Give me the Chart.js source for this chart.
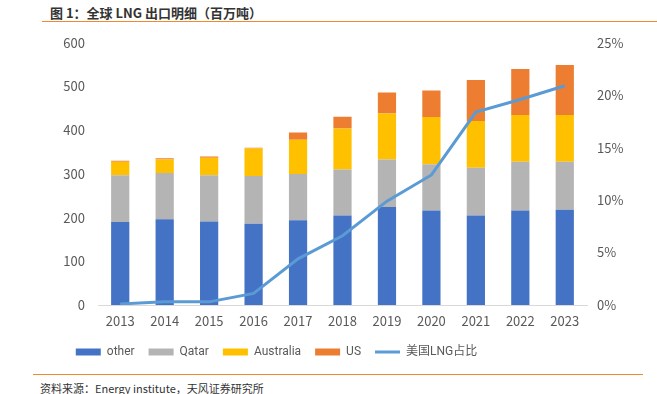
<!DOCTYPE html>
<html>
<head>
<meta charset="utf-8">
<script src="https://cdn.jsdelivr.net/npm/chart.js@4.4.1/dist/chart.umd.min.js"></script>
<style>
  body { margin: 0; width: 657px; height: 394px; background: #fff; position: relative; overflow: hidden;
         font-family: "Noto Sans CJK SC", "Noto Sans", sans-serif; }
  #title { position: absolute; left: 50px; top: 3px; font-size: 13px; font-weight: bold; color: #333; }
  #topLine { position: absolute; left: 42px; right: 0; top: 21px; height: 1px; background: #f08a2c; }
  #bottomLine { position: absolute; left: 33px; width: 610px; top: 374px; height: 1px; background: #f08a2c; }
  #source { position: absolute; left: 40px; top: 380px; font-size: 11px; color: #333; }
  #wrap { position: absolute; left: 0; top: 22px; width: 657px; height: 346px; }
</style>
</head>
<body>
<div id="title">图 1：全球 LNG 出口明细（百万吨）</div>
<div id="topLine"></div>
<div id="wrap"><canvas id="lngChart"></canvas></div>
<div id="bottomLine"></div>
<div id="source">资料来源：Energy  institute，天风证券研究所</div>
<script>
const years = ['2013', '2014', '2015', '2016', '2017', '2018', '2019', '2020', '2021', '2022', '2023'];
const other = [190, 196, 191, 186, 194, 205, 224, 216, 205, 216, 218];
const qatar = [107, 106, 106, 109, 106, 105, 109, 106, 109, 112, 110];
const australia = [31, 31, 40, 63, 78, 94, 105, 108, 107, 107, 107];
const us = [2, 3, 3, 2, 17, 27, 48, 61, 94, 105, 114];
const usShare = [0.1, 0.3, 0.3, 1.1, 4.4, 6.6, 9.9, 12.4, 18.4, 19.6, 20.9];

const tickFont = { family: '"Noto Sans CJK SC", "Noto Sans", sans-serif', size: 13 };
const legendFont = { family: 'Roboto, "Noto Sans CJK SC", sans-serif', size: 12 };
const tickColor = '#595959';

function barSet(label, data, color) {
    return {
        type: 'bar',
        label: label,
        data: data,
        backgroundColor: color,
        borderWidth: 0,
        pointStyle: 'rect',
        yAxisID: 'y',
        stack: 's',
        order: 2,
        categoryPercentage: 1,
        barPercentage: 0.41
    };
}

// legend in the original sits left of centre
const legendShift = {
    id: 'legendShift',
    afterLayout(chart) {
        chart.legend.left -= 52;
        chart.legend.right -= 52;
    }
};

new Chart(document.getElementById('lngChart').getContext('2d'), {
    data: {
        labels: years,
        datasets: [
            barSet('other', other, '#4472c4'),
            barSet('Qatar', qatar, '#b4b4b4'),
            barSet('Australia', australia, '#ffc000'),
            barSet('US', us, '#ed7d31'),
            {
                type: 'line',
                label: '美国LNG占比',
                data: usShare,
                borderColor: '#5b9bd5',
                backgroundColor: '#5b9bd5',
                borderWidth: 3,
                pointRadius: 0,
                pointStyle: 'line',
                tension: 0,
                yAxisID: 'y1',
                order: 1
            }
        ]
    },
    plugins: [legendShift],
    options: {
        responsive: true,
        maintainAspectRatio: false,
        animation: false,
        layout: { padding: { top: 14, left: 0, right: 0, bottom: 0 } },
        plugins: {
            legend: {
                position: 'bottom',
                labels: {
                    usePointStyle: true,
                    pointStyleWidth: 25,
                    boxHeight: 7,
                    padding: 14,
                    color: tickColor,
                    font: legendFont,
                    sort: function (a, b) { return a.datasetIndex - b.datasetIndex; }
                }
            },
            tooltip: { enabled: false }
        },
        scales: {
            x: {
                stacked: true,
                grid: { display: false, drawTicks: false },
                border: { color: '#d9d9d9', width: 1 },
                ticks: { color: tickColor, font: tickFont, padding: 8 },
                afterFit: function (scale) { scale.height = 27; }
            },
            y: {
                stacked: true,
                position: 'left',
                min: 0,
                max: 600,
                grid: { display: false, drawTicks: false },
                border: { display: false },
                ticks: { stepSize: 100, color: tickColor, font: tickFont, padding: 13 },
                afterFit: function (scale) { scale.width = 98; }
            },
            y1: {
                position: 'right',
                min: 0,
                max: 25,
                grid: { display: false, drawTicks: false },
                border: { display: false },
                ticks: {
                    stepSize: 5,
                    color: tickColor,
                    font: tickFont,
                    padding: 10,
                    callback: function (v) { return v + '%'; }
                },
                afterFit: function (scale) { scale.width = 70; }
            }
        }
    }
});
</script>
</body>
</html>
